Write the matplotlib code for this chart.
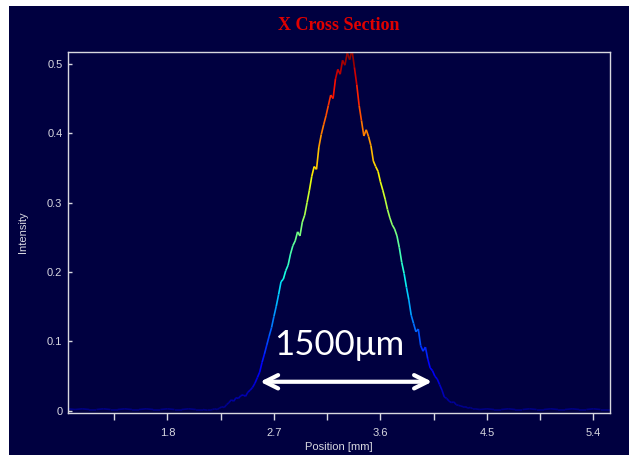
import numpy as np
import matplotlib
matplotlib.use('Agg')
from matplotlib import pyplot as plt
from matplotlib.collections import LineCollection
from matplotlib.patches import Rectangle

plt.rcParams['font.family'] = ['Liberation Sans', 'DejaVu Sans']

# profile (position in mm, intensity)
base_left_x = [0.96, 1.02, 1.08, 1.14, 1.20, 1.26, 1.32, 1.38, 1.44, 1.50, 1.56, 1.62,
               1.68, 1.74, 1.80, 1.86, 1.92, 1.98, 2.04, 2.10, 2.14]
base_left_y = [0.003, 0.002, 0.003, 0.002, 0.002, 0.003, 0.002, 0.002, 0.003, 0.002, 0.002, 0.003,
               0.002, 0.002, 0.003, 0.002, 0.002, 0.003, 0.002, 0.002, 0.001]

peak_x = [2.16, 2.18, 2.20, 2.22, 2.24, 2.26, 2.28, 2.30, 2.32, 2.34, 2.36, 2.38, 2.40, 2.42,
          2.44, 2.46, 2.48, 2.50, 2.52, 2.54, 2.56, 2.58, 2.60, 2.62, 2.64, 2.66, 2.68, 2.70,
          2.72, 2.74, 2.76, 2.78, 2.80, 2.82, 2.84, 2.86, 2.88, 2.90, 2.92, 2.94, 2.96, 2.98,
          3.00, 3.02, 3.04, 3.06, 3.08, 3.10, 3.12, 3.14, 3.16, 3.18, 3.20, 3.22, 3.24, 3.26,
          3.28, 3.30, 3.32, 3.34, 3.36, 3.38, 3.40, 3.42, 3.44, 3.46, 3.48, 3.50, 3.52, 3.54,
          3.56, 3.58, 3.60, 3.62, 3.64, 3.66, 3.68, 3.70, 3.72, 3.74, 3.76, 3.78, 3.80, 3.82,
          3.84, 3.86, 3.88, 3.90, 3.92, 3.94, 3.96, 3.98, 4.00, 4.02, 4.04, 4.06, 4.08, 4.10,
          4.12, 4.14, 4.16, 4.18, 4.20, 4.22, 4.24, 4.26, 4.28, 4.30, 4.32, 4.34, 4.36, 4.38,
          4.40]
peak_y = [0.001, 0.002, 0.003, 0.002, 0.004, 0.006, 0.005, 0.009, 0.012, 0.016, 0.014, 0.019,
          0.018, 0.022, 0.023, 0.021, 0.027, 0.030, 0.034, 0.040, 0.048, 0.056, 0.070, 0.082,
          0.095, 0.108, 0.120, 0.136, 0.151, 0.168, 0.186, 0.190, 0.202, 0.210, 0.226, 0.238,
          0.245, 0.258, 0.252, 0.272, 0.282, 0.300, 0.318, 0.338, 0.352, 0.348, 0.380, 0.398,
          0.412, 0.425, 0.440, 0.455, 0.450, 0.478, 0.492, 0.485, 0.505, 0.498, 0.516, 0.506,
          0.520, 0.495, 0.470, 0.440, 0.418, 0.396, 0.405, 0.395, 0.382, 0.360, 0.352, 0.345,
          0.330, 0.318, 0.305, 0.290, 0.278, 0.268, 0.262, 0.252, 0.235, 0.214, 0.198, 0.178,
          0.160, 0.138, 0.126, 0.114, 0.118, 0.094, 0.086, 0.092, 0.075, 0.062, 0.058, 0.050,
          0.046, 0.038, 0.030, 0.020, 0.018, 0.014, 0.012, 0.013, 0.009, 0.008, 0.007, 0.006,
          0.006, 0.004, 0.005, 0.003, 0.003]

base_right_x = [4.44, 4.50, 4.56, 4.62, 4.68, 4.74, 4.80, 4.86, 4.92, 4.98, 5.04, 5.10,
                5.16, 5.22, 5.28, 5.34, 5.40, 5.46, 5.54]
base_right_y = [0.002, 0.003, 0.002, 0.002, 0.003, 0.002, 0.002, 0.003, 0.002, 0.002, 0.003, 0.002,
                0.002, 0.003, 0.002, 0.002, 0.003, 0.002, 0.002]

major_ticks = [1.8, 2.7, 3.6, 4.5, 5.4]
minor_ticks = [1.35, 2.25, 3.15, 4.05, 4.95]
y_ticks = [0, 0.1, 0.2, 0.3, 0.4, 0.5]
y_labels = ['0', '0.1', '0.2', '0.3', '0.4', '0.5']

navy = '#000040'
fg = '#d8d8e0'

x = np.array(base_left_x + peak_x + base_right_x)
y = np.array(base_left_y + peak_y + base_right_y)

fig = plt.figure(figsize=(6.29, 4.55), dpi=100)
fig.patch.set_facecolor('white')
fig.patches.append(Rectangle((9 / 629, 0), 1, 1 - 6 / 455, transform=fig.transFigure,
                             facecolor=navy, edgecolor='none', zorder=-5))

ax = fig.add_axes([68 / 629, 1 - 413 / 455, (610 - 68) / 629, (413 - 52) / 455])
ax.set_facecolor(navy)

pts = np.array([x, y]).T.reshape(-1, 1, 2)
segs = np.concatenate([pts[:-1], pts[1:]], axis=1)
lc = LineCollection(segs, cmap='jet', norm=plt.Normalize(0, 0.52), linewidth=1.2)
lc.set_array((y[:-1] + y[1:]) / 2)
ax.add_collection(lc)

ax.set_xlim(0.96, 5.54)
ax.set_ylim(-0.003, 0.517)

ax.set_xticks(major_ticks)
ax.set_xticks(minor_ticks, minor=True)
ax.set_xticklabels([str(t) for t in major_ticks])
ax.set_yticks(y_ticks)
ax.set_yticklabels(y_labels)
ax.tick_params(axis='x', which='both', direction='out', length=5, width=1, color=fg,
               labelcolor=fg, labelsize=8, pad=6)
ax.tick_params(axis='y', direction='in', length=3, width=1, color=fg,
               labelcolor=fg, labelsize=8, pad=4)
for s in ax.spines.values():
    s.set_color(fg)
    s.set_linewidth(1)

ax.set_xlabel('Position [mm]', color=fg, fontsize=8, labelpad=3)
ax.set_ylabel('Intensity', color=fg, fontsize=8, labelpad=14)
ax.set_title('X Cross Section', color='#e00000', fontsize=13, fontweight='bold',
             family='Liberation Serif', pad=16)

ax.annotate('', xy=(2.56, 0.042), xytext=(4.06, 0.042),
            arrowprops=dict(arrowstyle='<->', color='white', lw=3, mutation_scale=24))
ax.text(3.25, 0.095, '1500\u03bcm', color='white', fontsize=25, family='Lato',
        ha='center', va='center')

fig.savefig('out.png', dpi=100, facecolor=fig.get_facecolor())
